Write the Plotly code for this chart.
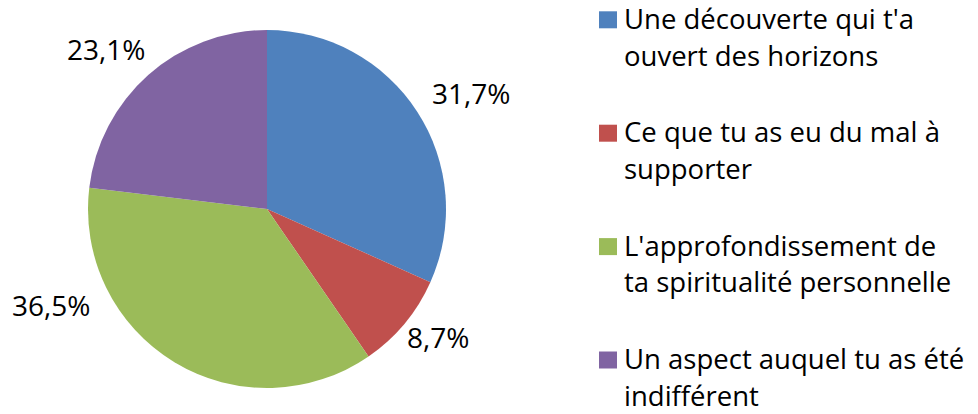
import plotly.graph_objects as go

# ---- data ----
categories = [
    "Une découverte qui t'a ouvert des horizons",
    "Ce que tu as eu du mal à supporter",
    "L'approfondissement de ta spiritualité personnelle",
    "Un aspect auquel tu as été indifférent",
]
legend_lines = [
    ["Une découverte qui t'a", "ouvert des horizons"],
    ["Ce que tu as eu du mal à", "supporter"],
    ["L'approfondissement de", "ta spiritualité personnelle"],
    ["Un aspect auquel tu as été", "indifférent"],
]
values = [31.7, 8.7, 36.5, 23.1]
colors = ["#4F81BD", "#C0504D", "#9BBB59", "#8064A2"]

# ---- layout constants (pixels) ----
W, H = 978, 414
cx, cy, r = 267, 209, 179
# centres of the percent labels (Excel best-fit placement)
label_pos = [(471, 93), (438, 337), (51, 305), (106, 49)]
FONT = "Open Sans"
LABEL_SIZE = 28
LEG_SIZE = 27.5
leg_sq_x = 599
leg_txt_x = 622
leg_first_base = 28.3
leg_line_gap = 36.7
leg_item_gap = 113.4

labels_txt = [f"{v:.1f}".replace(".", ",") + "%" for v in values]

fig = go.Figure(go.Pie(
    labels=categories,
    values=values,
    textinfo="none",
    sort=False,
    direction="clockwise",
    rotation=0,
    marker=dict(colors=colors, line=dict(width=0)),
    hoverinfo="label+percent",
    showlegend=False,
    domain=dict(x=[(cx - r) / W, (cx + r) / W], y=[(H - cy - r) / H, (H - cy + r) / H]),
))

annotations = []
for txt, (px, py) in zip(labels_txt, label_pos):
    annotations.append(dict(
        x=px / W, y=1 - py / H, xref="paper", yref="paper",
        text=txt, showarrow=False, xanchor="center", yanchor="middle",
        font=dict(family=FONT, size=LABEL_SIZE, color="#000000"),
    ))

shapes = []
for i, (lines, col) in enumerate(zip(legend_lines, colors)):
    base = leg_first_base + i * leg_item_gap
    shapes.append(dict(
        type="rect", xref="paper", yref="paper",
        x0=leg_sq_x / W, x1=(leg_sq_x + 18) / W,
        y0=1 - base / H, y1=1 - (base - 17) / H,
        fillcolor=col, line=dict(width=0),
    ))
    for j, line in enumerate(lines):
        b = base + j * leg_line_gap
        annotations.append(dict(
            x=leg_txt_x / W, y=1 - (b - 0.36 * LEG_SIZE) / H, xref="paper", yref="paper",
            text=line, showarrow=False, xanchor="left", yanchor="middle",
            font=dict(family=FONT, size=LEG_SIZE, color="#000000"),
        ))

fig.update_layout(
    width=W, height=H,
    margin=dict(l=0, r=0, t=0, b=0),
    paper_bgcolor="white",
    annotations=annotations,
    shapes=shapes,
)

fig.write_html("out.html", config={"displayModeBar": False},
               post_script="document.body.style.margin='0';")
